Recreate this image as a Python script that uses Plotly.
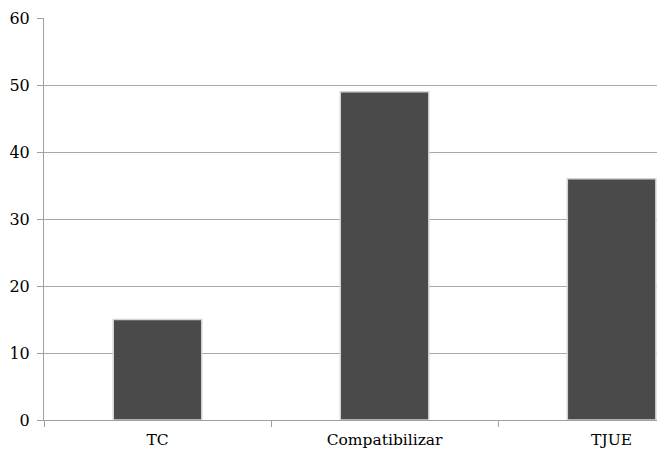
import plotly.graph_objects as go

categories = ["TC", "Compatibilizar", "TJUE"]
values = [15, 49, 36]
y_ticks = [0, 10, 20, 30, 40, 50, 60]

fig = go.Figure(go.Bar(
    x=categories, y=values, width=0.39,
    marker=dict(color="#4a4a4a", line=dict(color="#d4d4d4", width=1.5)),
))

fig.update_layout(
    width=657, height=450,
    margin=dict(l=44, r=0, t=18, b=30, autoexpand=False),
    plot_bgcolor="white", paper_bgcolor="white",
    font=dict(family="DejaVu Serif", size=15, color="black"),
    showlegend=False,
)
fig.update_xaxes(
    range=[-0.5, 2.2], showgrid=False, showline=True, linecolor="#a0a0a0", linewidth=1,
    ticks="outside", tickson="boundaries", ticklen=6, tickcolor="#a0a0a0",
    tickfont=dict(size=15.5), ticklabelstandoff=5, automargin=False,
)
fig.update_yaxes(
    range=[0, 60], tickvals=y_ticks, showgrid=True, gridcolor="#a8a8a8", gridwidth=1,
    showline=True, linecolor="#a0a0a0", linewidth=1, zeroline=False,
    ticks="outside", ticklen=6, tickcolor="#a0a0a0", tickfont=dict(size=16),
    ticklabelstandoff=4, automargin=False,
)

fig.write_html(
    "out.html",
    config={"displayModeBar": False, "staticPlot": True},
    post_script="document.body.style.margin='0';document.body.style.overflow='hidden';",
)
